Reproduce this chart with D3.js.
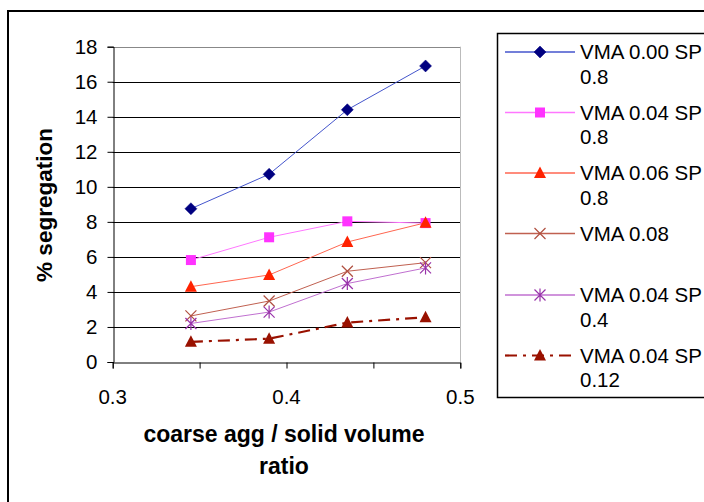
<!DOCTYPE html>
<html><head><meta charset="utf-8">
<script src="https://cdn.jsdelivr.net/npm/d3@7"></script>
<style>html,body{margin:0;padding:0;background:#fff;}svg{display:block;font-family:"Liberation Sans",Arial,sans-serif;}</style>
</head><body>
<svg id="chart" width="704" height="502"></svg>
<script>
const xValues = [0.345, 0.39, 0.435, 0.48];
const seriesNames = [["VMA 0.00 SP","0.8"],["VMA 0.04 SP","0.8"],["VMA 0.06 SP","0.8"],["VMA 0.08"],["VMA 0.04 SP","0.4"],["VMA 0.04 SP","0.12"]];
const vma000sp08 = [8.75, 10.72, 14.4, 16.9];
const vma004sp08 = [5.82, 7.12, 8.03, 7.93];
const vma006sp08 = [4.3, 4.97, 6.85, 7.95];
const vma008 = [2.63, 3.48, 5.18, 5.67];
const vma004sp04 = [2.2, 2.85, 4.48, 5.37];
const vma004sp012 = [1.15, 1.33, 2.25, 2.55];
const yTicks = [0,2,4,6,8,10,12,14,16,18];
const xTickLabels = [0.3, 0.4, 0.5];
const xTickMarks = [0.3, 0.35, 0.4, 0.45, 0.5];

const seriesValues = [vma000sp08, vma004sp08, vma006sp08, vma008, vma004sp04, vma004sp012];
const styles = [
  {line:"#4455cc", marker:"#000080", shape:"diamond", dash:null, w:1},
  {line:"#ff77ff", marker:"#ff33ff", shape:"square", dash:null, w:1},
  {line:"#ff6650", marker:"#ff2200", shape:"triangle", dash:null, w:1},
  {line:"#c06050", marker:"#b05040", shape:"x", dash:null, w:1},
  {line:"#c070d0", marker:"#9933aa", shape:"star", dash:null, w:1},
  {line:"#991100", marker:"#991100", shape:"triangle", dash:"12,6,3,6", w:2.2}
];

const svg = d3.select("#chart");
const x = d3.scaleLinear().domain([0.3,0.5]).range([112.7,460.3]);
const y = d3.scaleLinear().domain([0,18]).range([362,46.7]);

// outer frame
svg.append("rect").attr("x",8).attr("y",11).attr("width",720).attr("height",520)
  .attr("fill","none").attr("stroke","#000").attr("stroke-width",2);

// gridlines
svg.append("g").selectAll("line").data(yTicks.filter(d=>d>0 && d<18)).join("line")
  .attr("x1",x(0.3)).attr("x2",x(0.5)).attr("y1",d=>Math.round(y(d))+0.5).attr("y2",d=>Math.round(y(d))+0.5)
  .attr("stroke","#000").attr("stroke-width",1);
// plot border top and right
svg.append("line").attr("x1",x(0.3)).attr("x2",x(0.5)).attr("y1",Math.round(y(18))+0.5).attr("y2",Math.round(y(18))+0.5)
  .attr("stroke","#888").attr("stroke-width",1.2);
svg.append("line").attr("x1",Math.round(x(0.5))+0.5).attr("x2",Math.round(x(0.5))+0.5).attr("y1",y(18)).attr("y2",y(0))
  .attr("stroke","#bbb").attr("stroke-width",1);

// y axis
const yAxis = d3.axisLeft(y).tickValues(yTicks).tickSize(6).tickPadding(6).tickFormat(d3.format("d"));
const gy = svg.append("g").attr("transform",`translate(${Math.round(x(0.3))+0.5},0)`).call(yAxis);
gy.select(".domain").attr("stroke","#000");
gy.selectAll(".tick line").attr("stroke","#000");
gy.selectAll(".tick text").attr("font-size",20.5).attr("fill","#000").attr("font-family","Liberation Sans, Arial, sans-serif").attr("dx",-4);

// x axis
const xAxis = d3.axisBottom(x).tickValues(xTickMarks).tickSize(6).tickFormat("");
const gx = svg.append("g").attr("transform",`translate(0,${Math.round(y(0))+0.5})`).call(xAxis);
gx.select(".domain").attr("stroke","#000");
gx.selectAll(".tick line").attr("stroke","#000");
svg.append("g").selectAll("text").data(xTickLabels).join("text")
  .attr("x",d=>x(d)).attr("y",404).attr("text-anchor","middle").attr("font-size",20.5).attr("fill","#000")
  .text(d=>d3.format(".1f")(d));

// axis titles
svg.append("text").attr("x",284).attr("y",442).attr("text-anchor","middle").attr("font-size",23).attr("font-weight","bold").text("coarse agg / solid volume");
svg.append("text").attr("x",284).attr("y",474).attr("text-anchor","middle").attr("font-size",23).attr("font-weight","bold").text("ratio");
svg.append("text").attr("transform","translate(52,205) rotate(-90)").attr("text-anchor","middle").attr("font-size",22.5).attr("font-weight","bold").text("% segregation");

// marker drawing
function drawMarker(g, shape, color, cx, cy){
  if(shape==="diamond"){
    g.append("path").attr("d",`M${cx},${cy-6}L${cx+6},${cy}L${cx},${cy+6}L${cx-6},${cy}Z`).attr("fill",color).attr("stroke",color).attr("stroke-width",0.5);
  } else if(shape==="square"){
    g.append("rect").attr("x",cx-5).attr("y",cy-5).attr("width",10).attr("height",10).attr("fill",color);
  } else if(shape==="triangle"){
    g.append("path").attr("d",`M${cx},${cy-6.5}L${cx+6},${cy+5}L${cx-6},${cy+5}Z`).attr("fill",color);
  } else if(shape==="x"){
    g.append("path").attr("d",`M${cx-5.5},${cy-5.5}L${cx+5.5},${cy+5.5}M${cx+5.5},${cy-5.5}L${cx-5.5},${cy+5.5}`).attr("stroke",color).attr("stroke-width",1.2);
  } else if(shape==="star"){
    g.append("path").attr("d",`M${cx-5.5},${cy-5.5}L${cx+5.5},${cy+5.5}M${cx+5.5},${cy-5.5}L${cx-5.5},${cy+5.5}M${cx},${cy-6.5}L${cx},${cy+6.5}`).attr("stroke",color).attr("stroke-width",1.2);
  }
}

const line = d3.line().x(d=>x(d[0])).y(d=>y(d[1]));
seriesValues.forEach((vals,i)=>{
  const st = styles[i];
  const pts = vals.map((v,j)=>[xValues[j], v]);
  const g = svg.append("g");
  g.append("path").datum(pts).attr("d",line).attr("fill","none").attr("stroke",st.line).attr("stroke-width",st.w)
    .attr("stroke-dasharray",st.dash);
  pts.forEach(p=>drawMarker(g, st.shape, st.marker, x(p[0]), y(p[1])));
});

// legend
svg.append("rect").attr("x",497.5).attr("y",33.5).attr("width",220).attr("height",364)
  .attr("fill","#fff").attr("stroke","#000").attr("stroke-width",1.5);
const legendY = [52, 112.5, 173, 233.5, 295, 355.5];
seriesNames.forEach((nm,i)=>{
  const st = styles[i];
  const cy = legendY[i];
  const g = svg.append("g");
  g.append("line").attr("x1",505).attr("x2",575).attr("y1",cy).attr("y2",cy).attr("stroke",st.line).attr("stroke-width",st.w===1?1.5:2.2)
    .attr("stroke-dasharray",st.dash);
  drawMarker(g, st.shape, st.marker, 540, cy);
  nm.forEach((t,k)=>{
    g.append("text").attr("x",580).attr("y",cy+7+k*24.5).attr("font-size",20.5).attr("fill","#000").text(t);
  });
});
</script>
</body></html>
